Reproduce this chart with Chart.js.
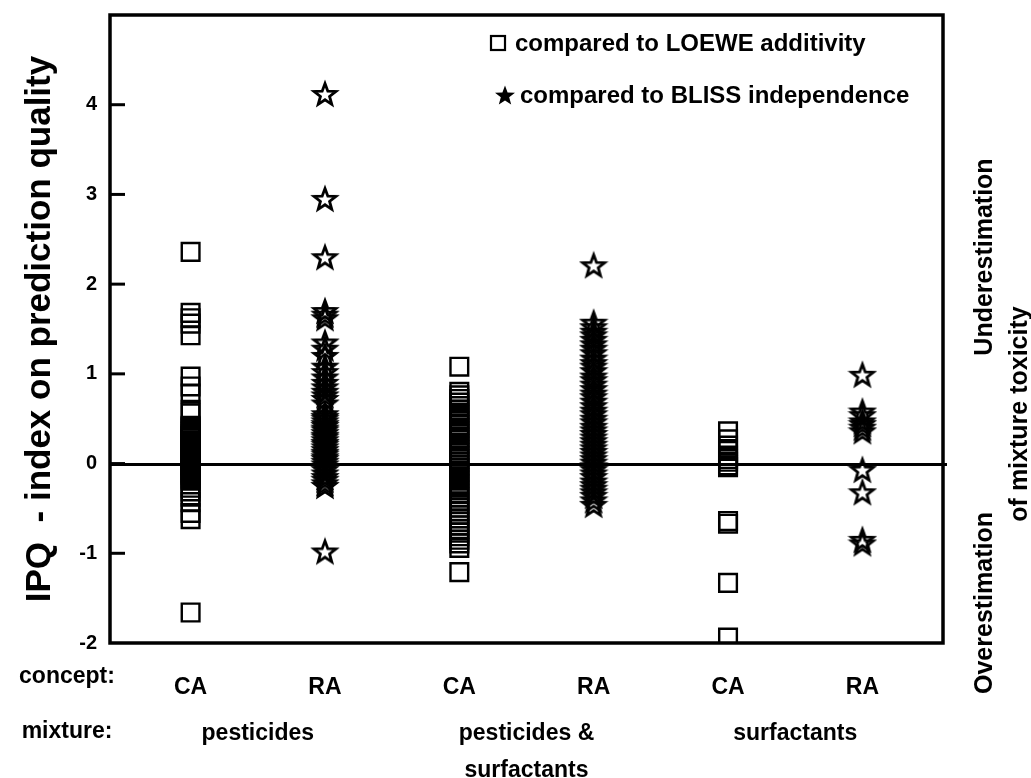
<!DOCTYPE html>
<html>
<head>
<meta charset="utf-8">
<script src="https://cdn.jsdelivr.net/npm/chart.js@4.4.1/dist/chart.umd.min.js"></script>
<style>
  html, body { margin: 0; padding: 0; background: #fff; }
  #wrap { width: 1031px; height: 778px; }
</style>
</head>
<body>
<div id="wrap"><canvas id="myChart" width="1031" height="778"></canvas></div>
<script>
// categories
const concepts = ['CA', 'RA', 'CA', 'RA', 'CA', 'RA']
const mixtures = [['pesticides'], ['pesticides &', 'surfactants'], ['surfactants']]
const yTicks = [-2, -1, 0, 1, 2, 3, 4]

// IPQ values, one list per column
const caPesticides = [2.36, 1.68, 1.62, 1.56, 1.43, 0.97, 0.86, 0.78, 0.6, 0.56,
  0.42, 0.41, 0.39, 0.37, 0.35, 0.33, 0.31, 0.3, 0.28, 0.26, 0.24, 0.22, 0.21, 0.19, 0.17, 0.15,
  0.13, 0.11, 0.1, 0.08, 0.06, 0.04, 0.02, 0.01, -0.01, -0.03, -0.05, -0.07, -0.09, -0.11, -0.13,
  -0.15, -0.17, -0.19, -0.27, -0.31, -0.37, -0.43, -0.55, -0.62, -1.66]
const raPesticides = [4.12, 2.95, 2.3, 1.7, 1.66, 1.62, 1.35, 1.28, 1.2, 1.08, 1.02, 0.96, 0.9, 0.85,
  0.8, 0.76, 0.72, 0.67, 0.55, 0.52, 0.5, 0.47, 0.44, 0.42, 0.39, 0.37, 0.34, 0.31, 0.29, 0.26, 0.23,
  0.21, 0.18, 0.15, 0.12, 0.1, 0.07, 0.05, 0.02, -0.01, -0.04, -0.07, -0.11, -0.15, -0.18, -0.22, -0.25, -0.98]
const caPestSurf = [1.08, 0.8, 0.76, 0.72, 0.68, 0.64, 0.6, 0.57, 0.54, 0.5, 0.47, 0.43, 0.4, 0.36,
  0.33, 0.29, 0.26, 0.22, 0.19, 0.15, 0.12, 0.08, 0.05, 0.02, -0.02, -0.05, -0.09, -0.12, -0.16, -0.19,
  -0.23, -0.27, -0.3, -0.34, -0.38, -0.42, -0.45, -0.49, -0.53, -0.57, -0.61, -0.65, -0.69, -0.73,
  -0.77, -0.81, -0.85, -0.89, -0.94, -1.21]
const raPestSurf = [2.21, 1.57, 1.52, 1.47, 1.43, 1.38, 1.33, 1.28, 1.23, 1.17, 1.12, 1.08, 1.03, 0.97,
  0.93, 0.88, 0.83, 0.78, 0.74, 0.69, 0.64, 0.59, 0.55, 0.5, 0.46, 0.41, 0.37, 0.33, 0.29, 0.25, 0.21,
  0.17, 0.13, 0.09, 0.05, 0.01, -0.03, -0.07, -0.11, -0.15, -0.2, -0.24, -0.28, -0.32, -0.36, -0.41, -0.46]
const caSurf = [0.36, 0.27, 0.2, 0.14, 0.09, 0.05, 0.02, -0.02, -0.04, -0.64, -0.67, -1.33, -1.94]
const raSurf = [0.99, 0.58, 0.54, 0.47, 0.44, 0.4, 0.36, -0.07, -0.32, -0.85, -0.89]

const loewe = [[1, caPesticides], [3, caPestSurf], [5, caSurf]]
  .flatMap(([x, vals]) => vals.map(y => ({ x, y })))
const bliss = [[2, raPesticides], [4, raPestSurf], [6, raSurf]]
  .flatMap(([x, vals]) => vals.map(y => ({ x, y })))

const FONT = "'Liberation Sans', Arial, sans-serif"

function starPath(ctx, cx, cy, R, r) {
  ctx.beginPath()
  for (let i = 0; i < 10; i++) {
    const a = -Math.PI / 2 + i * Math.PI / 5
    const rad = i % 2 ? r : R
    const px = cx + rad * Math.cos(a)
    const py = cy + rad * Math.sin(a)
    i ? ctx.lineTo(px, py) : ctx.moveTo(px, py)
  }
  ctx.closePath()
}

// hollow star marker
const starImg = document.createElement('canvas')
starImg.width = 30
starImg.height = 30
;(() => {
  const c = starImg.getContext('2d')
  starPath(c, 15, 16, 11.5, 4.8)
  c.lineWidth = 2.8
  c.lineJoin = 'miter'
  c.strokeStyle = '#000'
  c.stroke()
})()

const decor = {
  id: 'decor',
  beforeDatasetsDraw(chart) {
    const { ctx, chartArea: a, scales: { y } } = chart
    ctx.save()
    ctx.strokeStyle = '#000'
    ctx.lineWidth = 3
    const y0 = y.getPixelForValue(0) + 1
    ctx.beginPath()
    ctx.moveTo(a.left, y0)
    ctx.lineTo(a.right + 4, y0)
    ctx.stroke()
    ctx.restore()
  },
  afterDraw(chart) {
    const { ctx, chartArea: a, scales: { x, y } } = chart
    ctx.save()
    ctx.strokeStyle = '#000'
    ctx.fillStyle = '#000'
    // frame
    ctx.lineWidth = 3.5
    ctx.strokeRect(a.left, a.top, a.right - a.left, a.bottom - a.top)
    // inward ticks
    ctx.lineWidth = 3
    yTicks.slice(1).forEach(v => {
      const py = y.getPixelForValue(v)
      ctx.beginPath()
      ctx.moveTo(a.left, py)
      ctx.lineTo(a.left + 15, py)
      ctx.stroke()
    })

    // legend
    ctx.font = 'bold 24px ' + FONT
    ctx.textBaseline = 'middle'
    ctx.textAlign = 'left'
    ctx.lineWidth = 2.2
    ctx.strokeRect(491, 36, 14, 14)
    ctx.fillText('compared to LOEWE additivity', 515, 44)
    starPath(ctx, 505, 96, 10.5, 4.4)
    ctx.fill()
    ctx.fillText('compared to BLISS independence', 520, 96)

    // bottom labels
    ctx.font = 'bold 23px ' + FONT
    ctx.textAlign = 'center'
    ctx.fillText('concept:', 67, 677)
    ctx.fillText('mixture:', 67, 732)
    concepts.forEach((c, i) => ctx.fillText(c, x.getPixelForValue(i + 1), 688))
    mixtures.forEach((lines, i) => {
      const px = x.getPixelForValue(2 * i + 1.5)
      lines.forEach((t, j) => ctx.fillText(t, px, 734 + j * 37))
    })

    // right side notes
    ctx.font = 'bold 25px ' + FONT
    const side = [['Underestimation', a.right + 42, 257], ['of mixture toxicity', a.right + 77, 414],
      ['Overestimation', a.right + 42, 603]]
    side.forEach(([t, px, py]) => {
      ctx.save()
      ctx.translate(px, py)
      ctx.rotate(-Math.PI / 2)
      ctx.fillText(t, 0, 0)
      ctx.restore()
    })
    ctx.restore()
  }
}

new Chart(document.getElementById('myChart'), {
  type: 'scatter',
  data: {
    datasets: [{
      label: 'compared to LOEWE additivity',
      data: loewe,
      pointStyle: 'rect',
      pointRadius: 12.5,
      borderWidth: 2.4,
      borderColor: '#000',
      backgroundColor: 'rgba(0,0,0,0)'
    }, {
      label: 'compared to BLISS independence',
      data: bliss,
      pointStyle: starImg,
      pointRadius: 14
    }]
  },
  options: {
    responsive: false,
    animation: false,
    events: [],
    layout: { padding: { left: 0, top: 15, right: 88, bottom: 0 } },
    plugins: { legend: { display: false }, tooltip: { enabled: false } },
    scales: {
      x: {
        type: 'linear',
        min: 0.4,
        max: 6.6,
        ticks: { display: false },
        grid: { display: false },
        border: { display: false },
        afterFit: s => { s.height = 135 }
      },
      y: {
        min: -2,
        max: 5,
        afterBuildTicks: s => { s.ticks = yTicks.map(v => ({ value: v })) },
        ticks: {
          color: '#000',
          padding: 13,
          font: { family: FONT, size: 20, weight: 'bold' }
        },
        grid: { drawOnChartArea: false, drawTicks: false, tickLength: 0 },
        border: { display: false },
        title: {
          display: true,
          text: 'IPQ  - index on prediction quality',
          color: '#000',
          padding: { top: 19, bottom: 0 },
          font: { family: FONT, size: 35, weight: 'bold' }
        },
        afterFit: s => {
          s.width = 110
          s.paddingTop = 0
          s.paddingBottom = 0
        }
      }
    }
  },
  plugins: [decor]
})
</script>
</body>
</html>
